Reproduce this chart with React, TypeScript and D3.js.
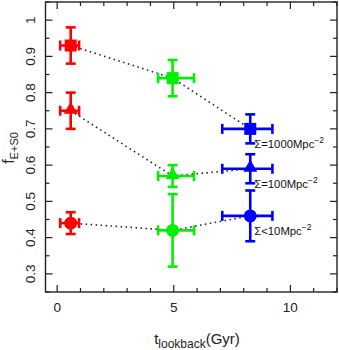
import React from "react";
import * as d3 from "d3";

const tLookback = [0.58, 4.95, 8.28];
const tErrLow = [0.45, 0.62, 1.2];
const tErrHigh = [0.36, 0.92, 0.95];
const epochColors = ["#ff0000", "#00f000", "#0000ff"];

const densityLabels = ["\u03a3=1000Mpc", "\u03a3=100Mpc", "\u03a3<10Mpc"];
const markerShapes = ["square", "triangle", "circle"];
const fDense = [0.93, 0.84, 0.70];
const fDenseErr = [0.05, 0.05, 0.04];
const fMid = [0.75, 0.57, 0.59];
const fMidErr = [0.05, 0.03, 0.04];
const fSparse = [0.44, 0.42, 0.46];
const fSparseErr = [0.03, 0.10, 0.07];

const xMajorTicks = [0, 5, 10];
const xMinorTicks = d3.range(0, 13, 1);
const yMajorTicks = [0.3, 0.4, 0.5, 0.6, 0.7, 0.8, 0.9, 1];
const yMinorTicks = d3.range(0.25, 1.051, 0.05);

const W = 339, H = 350;
const L = 45.5, R = 337, T = 2, B = 292;

export default function App() {
  const x = d3.scaleLinear().domain([-0.5, 12]).range([L, R]);
  const y = d3.scaleLinear().domain([0.25, 1.05]).range([B, T]);
  const series = [
    { vals: fDense, errs: fDenseErr, shape: markerShapes[0], label: densityLabels[0] },
    { vals: fMid, errs: fMidErr, shape: markerShapes[1], label: densityLabels[1] },
    { vals: fSparse, errs: fSparseErr, shape: markerShapes[2], label: densityLabels[2] },
  ];
  const line = d3.line<number>().x((_, i) => x(tLookback[i])).y((d) => y(d));
  const font = "Liberation Sans, Arial, sans-serif";
  const cap = 5;
  const ew = 2.6;

  const marker = (shape: string, cx: number, cy: number, c: string) => {
    if (shape === "square") return <rect x={cx - 6} y={cy - 6} width={12} height={12} fill={c} />;
    if (shape === "triangle") {
      const s = d3.symbol().type(d3.symbolTriangle).size(85)();
      return <path d={s || ""} transform={`translate(${cx},${cy - 1})`} fill={c} />;
    }
    return <circle cx={cx} cy={cy} r={6.5} fill={c} />;
  };

  return (
    <svg width={W} height={H} style={{ position: "absolute", left: 0, top: 0 }}>
      <rect width={W} height={H} fill="#fff" />
      {series.map((s, k) => (
        <path key={"l" + k} d={line(s.vals) || ""} fill="none" stroke="#222" strokeWidth={1.6}
          strokeDasharray="1.5,3.5" />
      ))}
      {series.map((s, k) =>
        s.vals.map((v, i) => {
          const c = epochColors[i];
          const cx = x(tLookback[i]);
          const cy = y(v);
          const y1 = y(v + s.errs[i]);
          const y2 = y(v - s.errs[i]);
          const x1 = x(tLookback[i] - tErrLow[i]);
          const x2 = x(tLookback[i] + tErrHigh[i]);
          return (
            <g key={`m${k}-${i}`} stroke={c} strokeWidth={ew}>
              <line x1={cx} x2={cx} y1={y1} y2={y2} />
              <line x1={cx - cap} x2={cx + cap} y1={y1} y2={y1} />
              <line x1={cx - cap} x2={cx + cap} y1={y2} y2={y2} />
              <line x1={x1} x2={x2} y1={cy} y2={cy} />
              <line x1={x1} x2={x1} y1={cy - cap} y2={cy + cap} />
              <line x1={x2} x2={x2} y1={cy - cap} y2={cy + cap} />
              <g stroke="none">{marker(s.shape, cx, cy, c)}</g>
            </g>
          );
        })
      )}
      {series.map((s, k) => {
        const i = 2;
        const ty = y(s.vals[i] - s.errs[i]) + (k === 2 ? -6 : 4.5);
        return (
          <text key={"t" + k} x={x(tLookback[i]) + 4} y={ty} fontFamily={font} fontSize={11.3} fill="#111">
            {s.label}
            <tspan dy={-5} fontSize={8.5}>{"\u22122"}</tspan>
          </text>
        );
      })}
      <rect x={L} y={T} width={R - L} height={B - T} fill="none" stroke="#222" strokeWidth={1.4} />
      {xMinorTicks.map((t) => {
        const len = xMajorTicks.includes(t) ? 7 : 4;
        return (
          <g key={"xt" + t} stroke="#222" strokeWidth={1.2}>
            <line x1={x(t)} x2={x(t)} y1={B} y2={B - len} />
            <line x1={x(t)} x2={x(t)} y1={T} y2={T + len} />
          </g>
        );
      })}
      {xMajorTicks.map((t) => (
        <text key={"xl" + t} x={x(t)} y={311.5} textAnchor="middle" fontFamily={font} fontSize={13.5} fill="#222">
          {t}
        </text>
      ))}
      {yMinorTicks.map((t, j) => {
        const major = yMajorTicks.some((m) => Math.abs(m - t) < 1e-6);
        const len = major ? 7 : 4;
        return (
          <g key={"yt" + j} stroke="#222" strokeWidth={1.2}>
            <line x1={L} x2={L + len} y1={y(t)} y2={y(t)} />
            <line x1={R} x2={R - len} y1={y(t)} y2={y(t)} />
          </g>
        );
      })}
      {yMajorTicks.map((t) => (
        <text key={"yl" + t} transform={`translate(35,${y(t)}) rotate(-90)`} textAnchor="middle"
          fontFamily={font} fontSize={13.5} fill="#222">
          {String(t)}
        </text>
      ))}
      <text x={197} y={343.5} textAnchor="middle" fontFamily={font} fontSize={15} fill="#222">
        t<tspan dy={4} fontSize={12}>lookback</tspan>
        <tspan dy={-4}>(Gyr)</tspan>
      </text>
      <text transform={`translate(14,148) rotate(-90)`} textAnchor="middle" fontFamily={font} fontSize={16} fill="#222">
        f<tspan dy={4} fontSize={11}>E+S0</tspan>
      </text>
    </svg>
  );
}
